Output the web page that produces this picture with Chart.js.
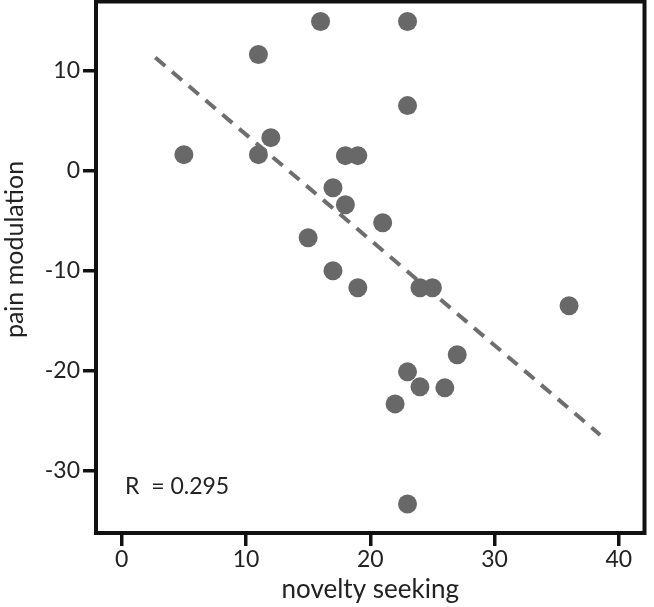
<!DOCTYPE html>
<html>
<head>
<meta charset="utf-8">
<script src="https://cdn.jsdelivr.net/npm/chart.js@4/dist/chart.umd.min.js"></script>
<style>
  body { margin: 0; background: #fff; overflow: hidden; }
  #wrap { width: 654px; height: 607px; overflow: hidden; }
  #chart { display: block; margin-top: -8px; }
</style>
</head>
<body>
<div id="wrap"><canvas id="chart" width="654" height="615"></canvas></div>
<script>
// values
const noveltySeeking = [5, 11, 11, 12, 16, 15, 17, 18, 18, 19, 17, 19, 21, 23, 23, 24, 25, 36, 27, 23, 24, 26, 22, 23];
const painModulation = [1.6, 11.6, 1.6, 3.3, 14.9, -6.7, -1.7, -3.4, 1.5, 1.5, -10, -11.7, -5.2, 14.9, 6.5, -11.7, -11.7, -13.5, -18.4, -20.1, -21.6, -21.7, -23.3, -33.3];
const trendX = [2.7, 38.5];
const trendY = [11.3, -26.4];
const xTicks = [0, 10, 20, 30, 40];
const yTicks = [-30, -20, -10, 0, 10];
const rLabel = "R  = 0.295";
const yTitle = "pain modulation";

const FONT = "Lato, 'Open Sans', sans-serif";

const framePlugin = {
    id: "frame",
    afterDraw(chart) {
        const { ctx, chartArea } = chart;
        ctx.save();
        ctx.strokeStyle = "#111";
        ctx.lineWidth = 4;
        ctx.strokeRect(chartArea.left, chartArea.top, chartArea.right - chartArea.left, chartArea.bottom - chartArea.top);
        ctx.fillStyle = "#222";
        ctx.font = "23px " + FONT;
        ctx.textBaseline = "middle";
        ctx.fillText(rLabel, chartArea.left + 29, chartArea.bottom - 46);
        // y title sits a bit above the middle of the frame
        ctx.font = "25px " + FONT;
        ctx.textAlign = "center";
        ctx.translate(15, chartArea.top + 248);
        ctx.rotate(-Math.PI / 2);
        ctx.fillText(yTitle, 0, 0);
        ctx.restore();
    }
};

new Chart(document.getElementById("chart"), {
    type: "scatter",
    data: {
        datasets: [
            {
                label: "data",
                data: noveltySeeking.map((x, i) => ({ x: x, y: painModulation[i] })),
                backgroundColor: "#686868",
                borderWidth: 0,
                pointRadius: 9.5
            },
            {
                label: "trend",
                type: "line",
                data: trendX.map((x, i) => ({ x: x, y: trendY[i] })),
                borderColor: "#6e6e6e",
                borderWidth: 4,
                borderDash: [13, 9],
                pointRadius: 0,
                fill: false
            }
        ]
    },
    options: {
        responsive: false,
        animation: false,
        layout: { padding: { top: 0, right: 3, left: 0, bottom: 0 } },
        plugins: { legend: { display: false }, tooltip: { enabled: false } },
        scales: {
            x: {
                type: "linear",
                min: -2.07,
                max: 42.07,
                afterBuildTicks: s => { s.ticks = xTicks.map(v => ({ value: v })); },
                afterFit: s => { s.height = 74; s.paddingLeft = 0; s.paddingRight = 0; },
                border: { display: false },
                grid: { drawOnChartArea: false, drawTicks: true, tickLength: 13, lineWidth: 3.5, color: "#111" },
                ticks: { color: "#222", font: { family: FONT, size: 23 }, padding: 0 },
                title: { display: true, text: "novelty seeking", color: "#222", font: { family: FONT, size: 26 }, padding: { top: 0, bottom: 2 } }
            },
            y: {
                type: "linear",
                min: -36.2,
                max: 16.9,
                afterBuildTicks: s => { s.ticks = yTicks.map(v => ({ value: v })); },
                afterFit: s => { s.width = 96; s.paddingTop = 0; s.paddingBottom = 0; },
                border: { display: false },
                grid: { drawOnChartArea: false, drawTicks: true, tickLength: 13, lineWidth: 3.5, color: "#111" },
                ticks: { color: "#222", font: { family: FONT, size: 23 }, padding: 3 }
            }
        }
    },
    plugins: [framePlugin]
});
</script>
</body>
</html>
